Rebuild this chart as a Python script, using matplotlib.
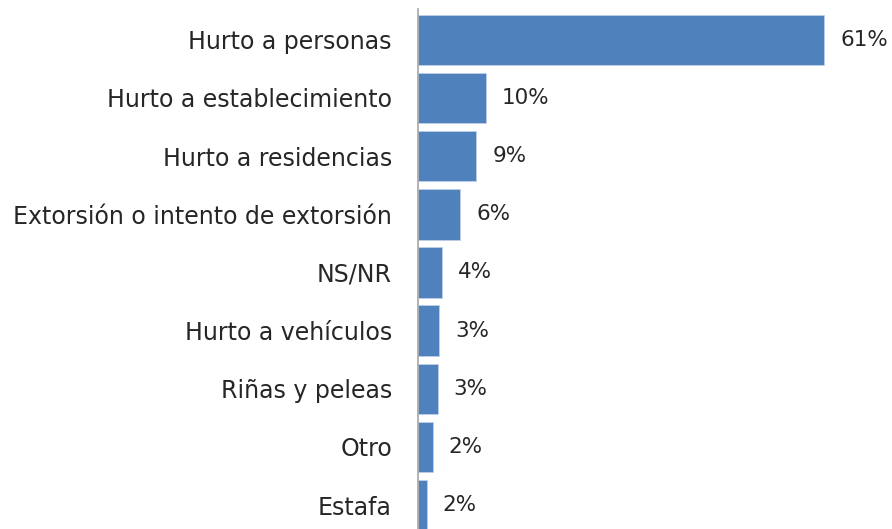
import matplotlib
matplotlib.use("Agg")
import matplotlib.pyplot as plt

categories = ["Hurto a personas", "Hurto a establecimiento", "Hurto a residencias",
              "Extorsión o intento de extorsión", "NS/NR", "Hurto a vehículos",
              "Riñas y peleas", "Otro", "Estafa"]
values = [61.0, 10.2, 8.8, 6.4, 3.6, 3.2, 3.0, 2.3, 1.4]
value_labels = ["61%", "10%", "9%", "6%", "4%", "3%", "3%", "2%", "2%"]

plt.rcParams['font.family'] = ['DejaVu Sans']
fig = plt.figure(figsize=(8.92, 5.29), dpi=100)
ax = fig.add_axes([417.5 / 892, 0, 1 - 417.5 / 892, 1 - 9 / 529])

ypos = list(range(len(categories)))
ax.barh(ypos, values, height=0.87, color="#4F81BD", edgecolor="#BDD0E8", linewidth=0.6)
ax.set_xlim(0, 71.15)
ax.set_ylim(8.41, -0.53)
ax.set_yticks(ypos)
ax.set_yticklabels(categories, fontsize=17, color="#262626")
ax.tick_params(axis='y', length=0, pad=18.4)
ax.set_xticks([])
for s in ["top", "right", "bottom"]:
    ax.spines[s].set_visible(False)
ax.spines["left"].set_color("#A6A6A6")
ax.spines["left"].set_linewidth(1.2)

for y, v, lab in zip(ypos, values, value_labels):
    ax.annotate(lab, (v, y), xytext=(11.5, 0), textcoords="offset points",
                va="center", ha="left", fontsize=15.5, color="#262626")

fig.savefig("out.png", dpi=100)
